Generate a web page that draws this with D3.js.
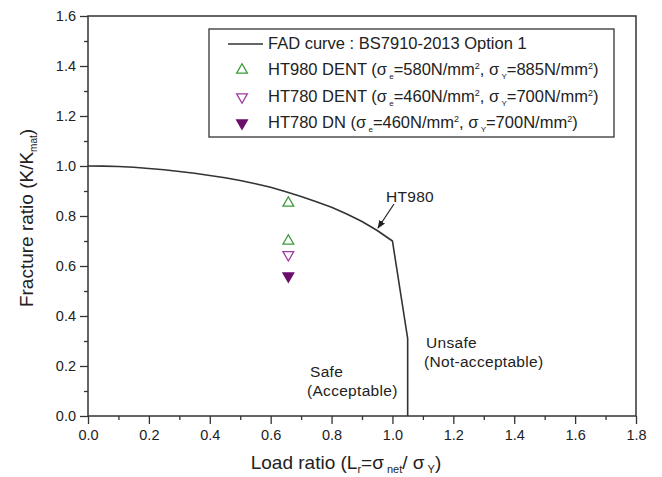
<!DOCTYPE html>
<html lang="en">
<head>
<meta charset="UTF-8">
<title>FAD</title>
<style>
    body { margin: 0; background: #fff; }
    svg { font-family: "Liberation Sans", Arial, sans-serif; }
    .frame { fill: none; stroke: #333; stroke-width: 1.5; }
    .axis path { display: none; }
    .axis line { stroke: #333; stroke-width: 1.3; }
    .axis text { font-size: 14.5px; fill: #222; font-family: "Liberation Sans", Arial, sans-serif; }
    .fad { fill: none; stroke: #333; stroke-width: 1.6; stroke-linejoin: round; }
    .note { font-size: 15.5px; fill: #222; letter-spacing: 0.3px; }
    .title { font-size: 19px; fill: #222; }
    .leg { font-size: 16.5px; fill: #222; }
</style>
</head>
<body>
<svg width="662" height="477"></svg>
<script src="https://cdn.jsdelivr.net/npm/d3@7"></script>
<script>
// FAD curve
const fadLr = [0, 0.05, 0.1, 0.15, 0.2, 0.25, 0.3, 0.35, 0.4, 0.45, 0.5, 0.55, 0.6, 0.65, 0.7,
               0.75, 0.8, 0.85, 0.9, 0.95, 1.0, 1.05, 1.05];
const fadKr = [1.0, 0.9995, 0.998, 0.995, 0.99, 0.985, 0.978, 0.971, 0.962, 0.953, 0.942, 0.929,
               0.915, 0.897, 0.878, 0.857, 0.835, 0.808, 0.778, 0.742, 0.70, 0.31, 0.0];

// test points
const seriesNames = ["HT980 DENT", "HT780 DENT", "HT780 DN"];
const ht980Lr = [0.658, 0.658];
const ht980Kr = [0.852, 0.70];
const ht780Lr = [0.658];
const ht780Kr = [0.645];
const ht780dnLr = [0.658];
const ht780dnKr = [0.56];

const xTicks = [0, 0.2, 0.4, 0.6, 0.8, 1.0, 1.2, 1.4, 1.6, 1.8];
const yTicks = [0, 0.2, 0.4, 0.6, 0.8, 1.0, 1.2, 1.4, 1.6];

const svg = d3.select("svg");
const plotL = 88, plotR = 636, plotT = 16, plotB = 416;

const x = d3.scaleLinear().domain([0, 1.8]).range([plotL, plotR]);
const y = d3.scaleLinear().domain([0, 1.6]).range([plotB, plotT]);

const xMinor = d3.range(1, 18, 2).map(d => d / 10);
const yMinor = d3.range(1, 16, 2).map(d => d / 10);

svg.append("g").attr("class", "axis")
    .attr("transform", `translate(0,${plotB})`)
    .call(d3.axisBottom(x).tickValues(xTicks).tickSize(8).tickPadding(6).tickFormat(d3.format(".1f")));
svg.append("g").attr("class", "axis")
    .attr("transform", `translate(0,${plotB})`)
    .call(d3.axisBottom(x).tickValues(xMinor).tickSize(4).tickFormat(""));
svg.append("g").attr("class", "axis")
    .attr("transform", `translate(${plotL},0)`)
    .call(d3.axisLeft(y).tickValues(yTicks).tickSize(8).tickPadding(4).tickFormat(d3.format(".1f")));
svg.append("g").attr("class", "axis")
    .attr("transform", `translate(${plotL},0)`)
    .call(d3.axisLeft(y).tickValues(yMinor).tickSize(4).tickFormat(""));

svg.append("rect").attr("class", "frame")
    .attr("x", plotL).attr("y", plotT)
    .attr("width", plotR - plotL).attr("height", plotB - plotT);

// FAD curve
const line = d3.line().x(d => x(d[0])).y(d => y(d[1]));
svg.append("path").attr("class", "fad")
    .attr("d", line(d3.zip(fadLr, fadKr)));

// markers
const triUp = d3.symbol().type(d3.symbolTriangle).size(50);
function tri(lr, kr, fill, stroke, flip) {
    svg.selectAll(null).data(d3.zip(lr, kr)).enter()
        .append("path")
        .attr("d", triUp)
        .attr("transform", d => `translate(${x(d[0])},${y(d[1])})` + (flip ? " rotate(180)" : ""))
        .attr("fill", fill).attr("stroke", stroke).attr("stroke-width", 1.3);
}
const green = "#3c9a3c", purple = "#a33aa3", dark = "#6b0f6b";
tri(ht980Lr, ht980Kr, "none", green, false);
tri(ht780Lr, ht780Kr, "none", purple, true);
tri(ht780dnLr, ht780dnKr, dark, dark, true);

// HT980 annotation with arrow
svg.append("defs").append("marker")
    .attr("id", "ah").attr("viewBox", "0 0 10 10")
    .attr("refX", 9).attr("refY", 5)
    .attr("markerWidth", 7).attr("markerHeight", 7)
    .attr("orient", "auto")
    .append("path").attr("d", "M0,1 L10,5 L0,9 Z").attr("fill", "#222");
svg.append("line")
    .attr("x1", 394).attr("y1", 204).attr("x2", 378).attr("y2", 228)
    .attr("stroke", "#222").attr("stroke-width", 1.2)
    .attr("marker-end", "url(#ah)");
svg.append("text").attr("class", "note").attr("x", 386).attr("y", 202).text("HT980");

svg.append("text").attr("class", "note").attr("x", 310).attr("y", 377).text("Safe");
svg.append("text").attr("class", "note").attr("x", 307).attr("y", 396).text("(Acceptable)");
svg.append("text").attr("class", "note").attr("x", 426).attr("y", 348).text("Unsafe");
svg.append("text").attr("class", "note").attr("x", 424).attr("y", 367).text("(Not-acceptable)");

// axis titles
const yt = svg.append("text").attr("class", "title")
    .attr("transform", "translate(33,218) rotate(-90)")
    .attr("text-anchor", "middle");
yt.append("tspan").text("Fracture ratio (K/K");
yt.append("tspan").attr("font-size", 10).attr("dy", 4).text("mat");
yt.append("tspan").attr("dy", -4).text(")");

const xt = svg.append("text").attr("class", "title")
    .attr("x", 346).attr("y", 469)
    .attr("text-anchor", "middle");
xt.append("tspan").text("Load ratio (L");
xt.append("tspan").attr("font-size", 11).attr("dy", 4).text("r");
xt.append("tspan").attr("dy", -4).text("=σ");
xt.append("tspan").attr("font-size", 11).attr("dy", 4).text(" net");
xt.append("tspan").attr("dy", -4).text("/ σ");
xt.append("tspan").attr("font-size", 11).attr("dy", 4).text(" Y");
xt.append("tspan").attr("dy", -4).text(")");

// legend
const legendRows = [
    { name: "FAD curve : BS7910-2013 Option 1", type: "line" },
    { name: seriesNames[0], type: "up", fill: "none", stroke: green, su: "580", yv: "885" },
    { name: seriesNames[1], type: "down", fill: "none", stroke: purple, su: "460", yv: "700" },
    { name: seriesNames[2], type: "down", fill: dark, stroke: dark, su: "460", yv: "700" }
];
const rowY = [44, 70, 97, 123];
const lg = svg.append("g");
lg.append("rect").attr("x", 209).attr("y", 29).attr("width", 405).attr("height", 108)
    .attr("fill", "#fff").attr("stroke", "#333").attr("stroke-width", 1.3);
legendRows.forEach((r, i) => {
    const cy = rowY[i];
    if (r.type === "line") {
        lg.append("line").attr("x1", 228).attr("x2", 263).attr("y1", cy).attr("y2", cy)
            .attr("stroke", "#333").attr("stroke-width", 1.5);
    } else {
        lg.append("path").attr("d", triUp)
            .attr("transform", `translate(242,${cy})` + (r.type === "down" ? " rotate(180)" : ""))
            .attr("fill", r.fill).attr("stroke", r.stroke).attr("stroke-width", 1.3);
    }
    const t = lg.append("text").attr("class", "leg").attr("x", 268).attr("y", cy + 5);
    if (r.type === "line") {
        t.text(r.name);
    } else {
        t.append("tspan").text(r.name + (i === 3 ? " (σ" : " (σ"));
        t.append("tspan").attr("font-size", 8).attr("dy", 4).text(" e");
        t.append("tspan").attr("dy", -4).text("=" + r.su + "N/mm");
        t.append("tspan").attr("font-size", 9).attr("dy", -6).text("2");
        t.append("tspan").attr("dy", 6).text(", σ");
        t.append("tspan").attr("font-size", 8).attr("dy", 4).text(" Y");
        t.append("tspan").attr("dy", -4).text("=" + r.yv + "N/mm");
        t.append("tspan").attr("font-size", 9).attr("dy", -6).text("2");
        t.append("tspan").attr("dy", 6).text(")");
    }
});
</script>
</body>
</html>
